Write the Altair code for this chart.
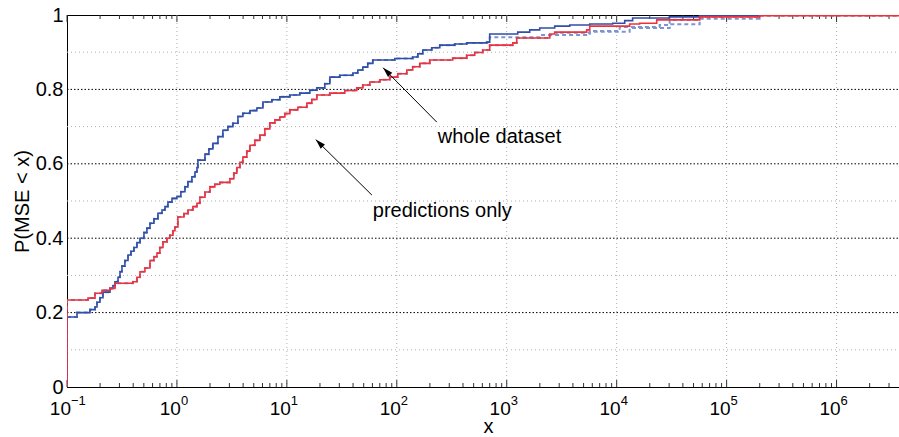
import altair as alt
import pandas as pd

# ---------------- data ----------------
# x values are given as log10(x); y is P(MSE < x)
blue_log10x = [-1.0, -1.0, -0.909, -0.791, -0.745, -0.727, -0.700, -0.673, -0.609, -0.582, -0.564,
               -0.536, -0.518, -0.500, -0.473, -0.445, -0.418, -0.391, -0.364, -0.336, -0.300,
               -0.273, -0.245, -0.209, -0.173, -0.136, -0.109, -0.082, -0.045, 0.000, 0.036,
               0.073, 0.100, 0.136, 0.164, 0.182, 0.191, 0.255, 0.291, 0.327, 0.373, 0.418,
               0.464, 0.509, 0.555, 0.600, 0.664, 0.727, 0.782, 0.864, 0.936, 1.027, 1.118,
               1.209, 1.273, 1.345, 1.391, 1.482, 1.600, 1.645, 1.691, 1.736, 1.782, 1.982,
               2.145, 2.191, 2.236, 2.318, 2.391, 2.527, 2.636, 2.818, 2.845, 3.100, 3.209,
               3.300, 3.436, 3.573, 3.755, 3.964, 4.073, 4.145, 4.482, 4.755, 5.300, 6.568]
blue_p = [0.0, 0.188, 0.200, 0.208, 0.215, 0.228, 0.240, 0.255, 0.265, 0.272, 0.283,
          0.295, 0.310, 0.325, 0.340, 0.355, 0.365, 0.375, 0.388, 0.400, 0.415,
          0.427, 0.440, 0.452, 0.467, 0.476, 0.485, 0.497, 0.507, 0.512, 0.525,
          0.538, 0.552, 0.565, 0.578, 0.590, 0.610, 0.626, 0.640, 0.655, 0.673, 0.690,
          0.700, 0.709, 0.727, 0.736, 0.743, 0.750, 0.766, 0.772, 0.780, 0.785, 0.790,
          0.798, 0.804, 0.815, 0.833, 0.838, 0.844, 0.852, 0.860, 0.870, 0.879, 0.883,
          0.887, 0.896, 0.906, 0.912, 0.919, 0.922, 0.925, 0.927, 0.949, 0.954, 0.960,
          0.965, 0.970, 0.973, 0.976, 0.978, 0.985, 0.992, 0.995, 0.998, 1.0, 1.0]
blue_alt_tail_log10x = [2.845, 3.300, 3.455, 3.755, 4.027, 4.391, 4.482, 4.755, 5.300, 6.568]
blue_alt_tail_p = [0.940, 0.946, 0.952, 0.957, 0.968, 0.973, 0.987, 0.995, 1.0, 1.0]

red_log10x = [-1.0, -1.0, -0.809, -0.745, -0.682, -0.609, -0.564, -0.400, -0.364, -0.336, -0.291,
              -0.245, -0.209, -0.182, -0.155, -0.127, -0.091, -0.064, -0.036, -0.018, 0.009,
              0.064, 0.100, 0.145, 0.182, 0.209, 0.255, 0.300, 0.345, 0.391, 0.482, 0.518,
              0.545, 0.573, 0.600, 0.636, 0.664, 0.709, 0.755, 0.800, 0.845, 0.891, 0.936,
              0.982, 1.027, 1.100, 1.182, 1.227, 1.273, 1.391, 1.527, 1.636, 1.691, 1.755,
              1.845, 1.936, 2.009, 2.091, 2.145, 2.209, 2.300, 2.509, 2.636, 2.709, 2.782,
              2.845, 3.055, 3.091, 3.391, 3.436, 3.727, 3.755, 4.118, 4.209, 4.364, 4.755,
              5.300, 6.568]
red_p = [0.0, 0.234, 0.239, 0.252, 0.260, 0.265, 0.279, 0.283, 0.295, 0.310, 0.320,
         0.340, 0.350, 0.360, 0.375, 0.390, 0.400, 0.408, 0.420, 0.430, 0.457,
         0.466, 0.476, 0.485, 0.494, 0.510, 0.524, 0.538, 0.545, 0.550, 0.560, 0.575,
         0.590, 0.604, 0.618, 0.634, 0.650, 0.663, 0.677, 0.694, 0.710, 0.718, 0.726,
         0.735, 0.745, 0.752, 0.763, 0.773, 0.785, 0.790, 0.797, 0.804, 0.812, 0.820,
         0.826, 0.833, 0.842, 0.852, 0.861, 0.870, 0.879, 0.884, 0.892, 0.899, 0.906,
         0.919, 0.925, 0.938, 0.949, 0.954, 0.960, 0.970, 0.976, 0.978, 0.987, 0.995,
         0.998, 0.998]
red_alt_tail_log10x = [3.391, 3.755, 4.118, 4.482, 4.755, 5.300, 6.568]
red_alt_tail_p = [0.946, 0.955, 0.965, 0.975, 0.990, 0.998, 0.998]

decades = [0.1, 1, 10, 100, 1000, 1e4, 1e5, 1e6]
exponents = ["\u22121", "0", "1", "2", "3", "4", "5", "6"]
y_ticks = [0, 0.2, 0.4, 0.6, 0.8, 1.0]
y_major = [0.2, 0.4, 0.6, 0.8]
y_minor = [0.1, 0.3, 0.5, 0.7, 0.9]

label_text = ["whole dataset", "predictions only"]
label_x = [236, 60.5]
label_y = [0.656, 0.457]
arrow_tail_x = [231, 59.3]
arrow_tail_y = [0.712, 0.516]
arrow_head_x = [75, 18.3]
arrow_head_y = [0.858, 0.665]

X_MAX = 10 ** 6.568

# ---------------- build tables ----------------
def rows(name, lx, p):
    return [{"series": name, "x": 10 ** e, "y": y, "i": i} for i, (e, y) in enumerate(zip(lx, p))]

b_keep = [k for k, e in enumerate(blue_log10x) if e < 2.845]
r_keep = [k for k, e in enumerate(red_log10x) if e <= 3.091]
blue_alt_lx = [blue_log10x[k] for k in b_keep] + blue_alt_tail_log10x
blue_alt_p = [blue_p[k] for k in b_keep] + blue_alt_tail_p
red_alt_lx = [red_log10x[k] for k in r_keep] + red_alt_tail_log10x
red_alt_p = [red_p[k] for k in r_keep] + red_alt_tail_p

dashed_df = pd.DataFrame(rows("wd_alt", blue_alt_lx, blue_alt_p) + rows("po_alt", red_alt_lx, red_alt_p))
solid_df = pd.DataFrame(rows("whole", blue_log10x, blue_p) + rows("pred", red_log10x, red_p))

minor_ticks = [round(k * 10 ** n, 6) for n in range(-1, 7) for k in range(2, 10) if k * 10 ** n <= X_MAX]
ticks_df = pd.DataFrame({"x": minor_ticks})
dec_df = pd.DataFrame({"x": decades, "e": exponents})
grid_v_df = pd.DataFrame({"x": decades[1:]})
ymaj_df = pd.DataFrame({"y": y_major})
ymin_df = pd.DataFrame({"y": y_minor})
ann_df = pd.DataFrame({"t": label_text, "x": label_x, "y": label_y})
arr_df = pd.DataFrame({"x": arrow_tail_x, "y": arrow_tail_y, "x2": arrow_head_x, "y2": arrow_head_y})
head_df = pd.DataFrame({"x": arrow_head_x, "y": arrow_head_y})

W, H = 832, 372
FONT = "Liberation Sans"

xscale = alt.Scale(type="log", domain=[0.1, X_MAX], nice=False)
yscale = alt.Scale(domain=[0, 1], nice=False, zero=False)
xaxis = alt.Axis(values=decades, labels=False, ticks=False, grid=False, domainColor="black",
                 title="x", titleX=421, titleY=39, titleBaseline="middle", titleFontSize=20,
                 titleFont=FONT, titleFontWeight="normal", titleColor="black")
yaxis = alt.Axis(values=y_ticks, format=".1~f", ticks=False, grid=False,
                 labelFontSize=20, labelFont=FONT, labelColor="black", labelPadding=4,
                 domainColor="black", title="P(MSE < x)", titleX=-45, titleY=186,
                 titleBaseline="middle", titleFontSize=20, titleFont=FONT,
                 titleFontWeight="normal", titleColor="black")

X = alt.X("x:Q", scale=xscale, axis=xaxis)
Y = alt.Y("y:Q", scale=yscale, axis=yaxis)

grid_v = alt.Chart(grid_v_df).mark_rule(color="#b0b0b0", strokeDash=[1, 3], strokeWidth=1).encode(
    x=X, y=alt.value(0), y2=alt.value(H))
grid_min = alt.Chart(ymin_df).mark_rule(color="#b0b0b0", strokeDash=[1, 3], strokeWidth=1).encode(
    y=Y, x=alt.value(0), x2=alt.value(W))
grid_maj = alt.Chart(ymaj_df).mark_rule(color="black", strokeDash=[1.5, 2], strokeWidth=1).encode(
    y=Y, x=alt.value(0), x2=alt.value(W))

tick_b = alt.Chart(ticks_df).mark_rule(color="#333333", strokeWidth=1).encode(
    x=X, y=alt.value(H), y2=alt.value(H - 4))
tick_t = alt.Chart(ticks_df).mark_rule(color="#333333", strokeWidth=1).encode(
    x=X, y=alt.value(0), y2=alt.value(4))
dtick_b = alt.Chart(dec_df).mark_rule(color="#333333", strokeWidth=1).encode(
    x=X, y=alt.value(H), y2=alt.value(H - 7))
dtick_t = alt.Chart(dec_df).mark_rule(color="#333333", strokeWidth=1).encode(
    x=X, y=alt.value(0), y2=alt.value(7))

lab10 = alt.Chart(dec_df).mark_text(text="10", font=FONT, fontSize=19, align="right",
                                    baseline="alphabetic", dx=4, color="black").encode(
    x=X, y=alt.value(H + 28))
labexp = alt.Chart(dec_df).mark_text(font=FONT, fontSize=13, align="left",
                                     baseline="alphabetic", dx=4, color="black").encode(
    x=X, y=alt.value(H + 18), text="e:N")

color_scale = alt.Scale(domain=["wd_alt", "po_alt", "whole", "pred"],
                        range=["#7d95cf", "#7d95cf", "#2f4fa8", "#f0303a"])

dashed = alt.Chart(dashed_df).mark_line(interpolate="step-after", strokeWidth=2,
                                        strokeDash=[4, 3], clip=True).encode(
    x=X, y=Y, detail="series:N", order="i:Q",
    color=alt.Color("series:N", scale=color_scale, legend=None))
solid = alt.Chart(solid_df).mark_line(interpolate="step-after", strokeWidth=1.6, clip=True).encode(
    x=X, y=Y, detail="series:N", order="i:Q",
    color=alt.Color("series:N", scale=color_scale, legend=None))

arrows = alt.Chart(arr_df).mark_rule(color="black", strokeWidth=1).encode(
    x=X, y=Y, x2="x2:Q", y2="y2:Q")
heads = alt.Chart(head_df).mark_point(shape="M0,0L-0.6,2L0.6,2Z", size=100, angle=315,
                                      filled=True, color="black", opacity=1).encode(x=X, y=Y)
labels = alt.Chart(ann_df).mark_text(font=FONT, fontSize=20, align="left", baseline="alphabetic",
                                     color="black").encode(x=X, y=Y, text="t:N")

chart = alt.layer(grid_v, grid_min, grid_maj, tick_b, tick_t, dtick_b, dtick_t,
                  dashed, solid, arrows, heads, labels, lab10, labexp).properties(
    width=W, height=H,
    autosize=alt.AutoSizeParams(type="none"),
    padding={"left": 67, "top": 15, "right": 0, "bottom": 50},
    background="white",
).configure_view(stroke="black", strokeWidth=1)

chart.save("out.html", embed_options={"renderer": "svg", "actions": False})
